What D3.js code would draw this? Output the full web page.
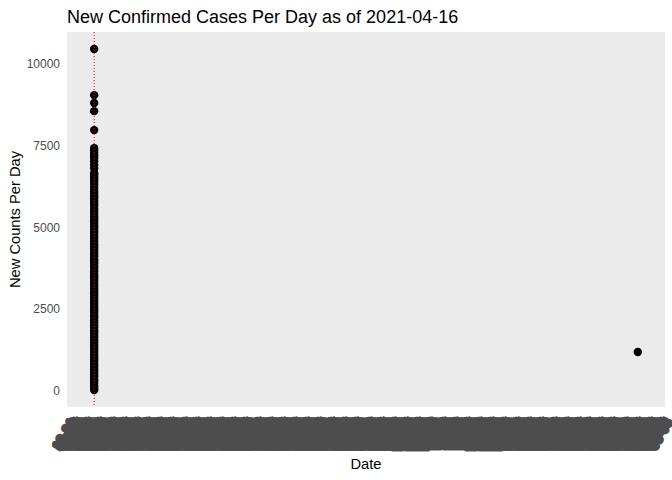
<!DOCTYPE html>
<html><head><meta charset="utf-8">
<script src="https://cdn.jsdelivr.net/npm/d3@7"></script>
<style>body{margin:0;background:#fff}text{font-family:"Liberation Sans",Arial,sans-serif}</style>
</head><body><svg id="c" width="672" height="480"></svg>
<script>
const chartTitle = "New Confirmed Cases Per Day as of 2021-04-16";
const xTitle = "Date";
const yTitle = "New Counts Per Day";
const clusterDate = "2020-01-22";
const outlierDate = "2021-04-16";
const vlineDate = "2020-01-22";
const clusterValues = [10450, 9040, 8800, 8550, 7970, 7420, 7350, 7280, 7200, 7120, 7020, 6900, 6800, 6650, 6600, 6530, 6450, 6380, 6300, 6200, 6100, 6020, 5950, 5880, 5800, 5720, 5650, 5560, 5480, 5400, 5320, 5250, 5180, 5100, 5020, 4950, 4870, 4800, 4720, 4650, 4560, 4480, 4400, 4330, 4250, 4180, 4100, 4020, 3950, 3880, 3800, 3720, 3650, 3570, 3500, 3420, 3350, 3270, 3200, 3120, 3050, 2980, 2900, 2830, 2750, 2680, 2600, 2530, 2450, 2380, 2300, 2230, 2150, 2080, 2000, 1930, 1850, 1780, 1700, 1630, 1550, 1480, 1400, 1330, 1250, 1180, 1100, 1030, 950, 880, 800, 730, 650, 580, 500, 430, 350, 280, 200, 130, 60, 20];
const outlierValues = [1180];
const yTicks = [0, 2500, 5000, 7500, 10000];

const parse = d3.timeParse("%Y-%m-%d");
const points = clusterValues.map(v => ({date: parse(clusterDate), value: v}))
  .concat(outlierValues.map(v => ({date: parse(outlierDate), value: v})));

const P = {l: 67, r: 665, t: 32, b: 407};
const svg = d3.select("#c");

const xe = d3.extent(points, d => d.date);
const xs = xe[1] - xe[0];
const x = d3.scaleTime().domain([new Date(+xe[0] - xs * 0.05), new Date(+xe[1] + xs * 0.05)]).range([P.l, P.r]);
const ye = d3.extent(points, d => d.value);
const ys = ye[1] - ye[0];
const y = d3.scaleLinear().domain([ye[0] - ys * 0.05, ye[1] + ys * 0.05]).range([P.b, P.t]);

svg.append("rect").attr("x", P.l).attr("y", P.t).attr("width", P.r - P.l).attr("height", P.b - P.t).attr("fill", "#EBEBEB");

// y axis
const ya = svg.append("g").attr("transform", `translate(${P.l},0)`)
  .call(d3.axisLeft(y).tickValues(yTicks).tickSize(0).tickPadding(7).tickFormat(d3.format("d")));
ya.select(".domain").remove();
ya.selectAll("text").attr("fill", "#4D4D4D").style("font-size", "12px");

// x axis - daily ticks
const xa = svg.append("g").attr("transform", `translate(0,${P.b})`)
  .call(d3.axisBottom(x).ticks(d3.timeDay.every(1)).tickSize(0).tickFormat(d3.timeFormat("%m-%d")));
xa.select(".domain").remove();
xa.selectAll("text")
  .attr("fill", "#4D4D4D").attr("stroke", "#4D4D4D").attr("stroke-width", 2.8)
  .attr("stroke-linejoin", "round")
  .style("font-size", "13.2px")
  .attr("x", 0).attr("y", 0).attr("dy", "0.72em")
  .attr("text-anchor", "end")
  .attr("transform", "translate(0,10) rotate(-60)");

// points
svg.append("g").selectAll("circle").data(points).join("circle")
  .attr("cx", d => x(d.date)).attr("cy", d => y(d.value)).attr("r", 4.2).attr("fill", "#000");

// vline
svg.append("line").attr("x1", x(parse(vlineDate))).attr("x2", x(parse(vlineDate)))
  .attr("y1", P.t).attr("y2", P.b).attr("stroke", "red").attr("stroke-width", 1).attr("stroke-dasharray", "1,2");

// titles
svg.append("text").attr("x", P.l).attr("y", 23).text(chartTitle).style("font-size", "18px").attr("fill", "#000");
svg.append("text").attr("x", (P.l + P.r) / 2).attr("y", 469).attr("text-anchor", "middle").text(xTitle).style("font-size", "14.7px").attr("fill", "#000");
svg.append("text").attr("transform", `translate(19.5,${(P.t + P.b) / 2}) rotate(-90)`).attr("text-anchor", "middle").text(yTitle).style("font-size", "14.7px").attr("fill", "#000");
</script></body></html>
